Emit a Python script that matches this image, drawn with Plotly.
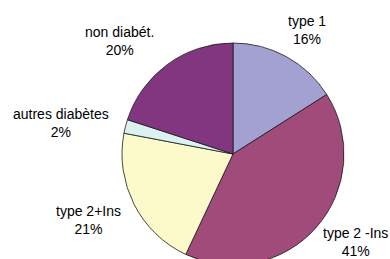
import plotly.graph_objects as go

labels = ["type 1", "type 2 -Ins", "type 2+Ins", "autres diabètes", "non diabét."]
values = [16, 41, 21, 2, 20]
colors = ["#A3A0D2", "#A04B7A", "#FCF9CA", "#DCF2F2", "#823680"]

# label anchor positions (pixels from top-left, layout only)
label_x = [307, 355, 88.5, 60.5, 119.5]
label_y = [30, 242, 220, 123, 41]

W, H = 390, 265  # page window is 259 tall; bottom of pie is clipped as in the reference
cx, top, bottom = 233, 43, 265
r = (bottom - top) / 2

fig = go.Figure(go.Pie(
    labels=labels,
    values=values,
    sort=False,
    direction="clockwise",
    rotation=0,
    marker=dict(colors=colors, line=dict(color="#1a1a1a", width=0.8)),
    textinfo="none",
    hoverinfo="label+percent",
    showlegend=False,
    domain=dict(x=[(cx - r) / W, (cx + r) / W], y=[(H - bottom) / H, (H - top) / H]),
))

total = sum(values)
for lab, v, x, y in zip(labels, values, label_x, label_y):
    fig.add_annotation(
        x=x / W, y=1 - y / H, xref="paper", yref="paper",
        text=f"{lab}<br>{round(100 * v / total)}%",
        showarrow=False, xanchor="center", yanchor="middle",
        font=dict(family="Liberation Sans, Arial, sans-serif", size=14, color="#000"),
    )

fig.update_layout(
    width=W, height=H,
    margin=dict(l=0, r=0, t=0, b=0),
    paper_bgcolor="white", plot_bgcolor="white",
)
fig.write_html(
    "out.html",
    config={"displayModeBar": False},
    post_script="document.body.style.margin='0';document.body.style.overflow='hidden';document.documentElement.style.overflow='hidden';",
)
